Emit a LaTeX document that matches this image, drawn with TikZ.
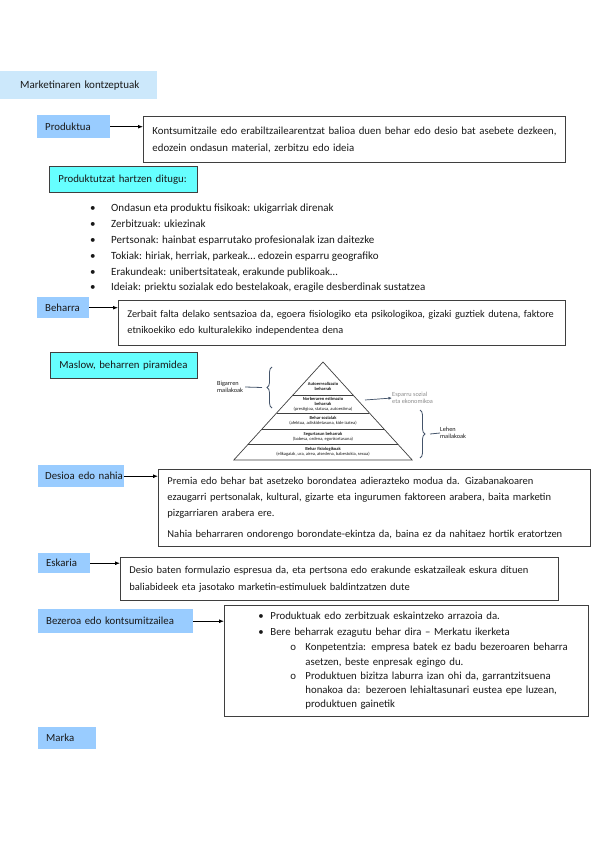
\documentclass[tikz,border=0pt]{standalone}
\usepackage{fontspec}
\setmainfont{Carlito}
\usetikzlibrary{arrows.meta,decorations.pathreplacing,shadows}
\definecolor{hdrblue}{HTML}{CCE8FB}
\definecolor{keyblue}{HTML}{99CCFF}
\definecolor{cyanbox}{HTML}{66FFFF}
\definecolor{edge}{HTML}{3F3F3F}
\definecolor{brace}{HTML}{44546A}
\begin{document}
\begin{tikzpicture}[x=1pt,y=-1pt,
  every node/.style={text=black!90},
  hdr/.style={fill=hdrblue, anchor=north west, inner xsep=20pt, inner ysep=0pt, align=left, font=\fontsize{11}{13}\selectfont},
  keybox/.style={fill=keyblue, anchor=north west, inner xsep=8pt, inner ysep=0pt, align=left, font=\fontsize{10.8}{13}\selectfont},
  cyanlbl/.style={fill=cyanbox, draw=edge, line width=0.9pt, anchor=north west, inner xsep=9pt, inner ysep=0pt, align=left, font=\fontsize{10.8}{13}\selectfont, drop shadow={shadow xshift=1pt, shadow yshift=-1pt, fill=black!40}},
  defbox/.style={draw=edge, fill=white, line width=0.9pt, anchor=north west, inner xsep=9pt, inner ysep=0pt, align=left, font=\fontsize{10.5}{16.5}\selectfont},
  link/.style={-{Latex[length=5pt,width=4pt]}, line width=0.9pt, black},
  pyr/.style={draw=edge, line width=0.7pt},
  pyrtxt/.style={align=center, inner sep=0pt, font=\fontsize{4.5}{4.9}\selectfont},
  bracestyle/.style={draw=brace, line width=0.8pt, decorate, decoration={brace, amplitude=5pt}},
  side/.style={align=left, inner sep=0pt, font=\fontsize{6.3}{7.3}\selectfont}
]
\useasboundingbox (0,0) rectangle (599,848);

% header
\node[hdr, text width=117pt, minimum height=28pt] (mk) at (0,71) {\mbox{Marketinaren kontzeptuak}};

% Produktua
\node[keybox, text width=57pt, minimum height=23pt] (prod) at (37,115) {Produktua};
\node[defbox, text width=404pt, minimum height=46pt, font=\fontsize{10.8}{17}\selectfont] (d1) at (143,116)
 {\mbox{Kontsumitzaile edo erabiltzailearentzat balioa duen behar edo desio bat asebete dezkeen,}\\
  \mbox{edozein ondasun material, zerbitzu edo ideia}};
\draw[link] (prod.east) -- (prod.east -| d1.west);

\node[cyanlbl, text width=130pt, minimum height=26pt] (ph) at (49,166) {\mbox{Produktutzat hartzen ditugu:}};

\node[anchor=north west, inner sep=0pt, align=left, font=\fontsize{11}{15.8}\selectfont] (list) at (90,204)
 {\makebox[21pt][l]{•}Ondasun eta produktu fisikoak: ukigarriak direnak\\
  \makebox[21pt][l]{•}Zerbitzuak: ukiezinak\\
  \makebox[21pt][l]{•}Pertsonak: hainbat esparrutako profesionalak izan daitezke\\
  \makebox[21pt][l]{•}Tokiak: hiriak, herriak, parkeak… edozein esparru geografiko\\
  \makebox[21pt][l]{•}Erakundeak: unibertsitateak, erakunde publikoak…\\
  \makebox[21pt][l]{•}Ideiak: priektu sozialak edo bestelakoak, eragile desberdinak sustatzea};

% Beharra
\node[keybox, text width=36pt, minimum height=21pt] (beh) at (37,297) {Beharra};
\node[defbox, text width=429pt, minimum height=45pt, font=\fontsize{10.3}{16}\selectfont] (d2) at (118,300)
 {\mbox{Zerbait falta delako sentsazioa da, egoera fisiologiko eta psikologikoa, gizaki guztiek dutena, faktore}\\
  \mbox{etnikoekiko edo kulturalekiko independentea dena}};
\draw[link] (beh.east) -- (beh.east -| d2.west);

% Maslow
\node[cyanlbl, text width=129pt, minimum height=26pt] (mas) at (50,352) {\mbox{Maslow, beharren piramidea}};

% pyramid
\coordinate (apex) at (323,362);
\coordinate (bl) at (233.8,460);
\coordinate (br) at (412.2,460);
\draw[pyr] (apex) -- (br) -- (bl) -- cycle;
\draw[pyr] (293,395) -- (353,395);
\draw[pyr] (276.6,413) -- (369.4,413);
\draw[pyr] (262,429) -- (384,429);
\draw[pyr] (248.4,444) -- (397.6,444);
\node[pyrtxt] (p1) at (323,386) {\textbf{Autoerrealizazio}\\\textbf{beharrak}};
\node[pyrtxt] (p2) at (323,404) {\textbf{Norberaren estimazio}\\\textbf{beharrak}\\(prestigioa, statusa, autoestima)};
\node[pyrtxt] (p3) at (323,421) {\textbf{Behar sozialak}\\(afektua, adiskidetasuna, kide izatea)};
\node[pyrtxt] (p4) at (323,436.5) {\textbf{Segurtasun beharrak}\\(babesa, ordena, egonkortasuna)};
\node[pyrtxt] (p5) at (323,452) {\textbf{Behar fisiologikoak}\\(elikagaiak, ura, airea, atsedena, babestokia, sexua)};

\draw[bracestyle] (272,408) -- (272,367);
\node[side, anchor=west] (big) at (217,387) {Bigarren\\mailakoak};
\coordinate (lb) at (262,387.5);
\draw[brace, line width=0.8pt] (big.east) ++(2,0) -- (lb);

\coordinate (ea) at (365,400);
\node[side, anchor=west, text=black!45] (esp) at (392,398) {Esparru sozial\\eta ekonomikoa};
\draw[-{Latex[length=3.5pt,width=3pt]}, draw=brace, fill=brace, line width=0.7pt] (ea) -- (esp.west);

\draw[bracestyle] (420,410) -- (420,458);
\node[side, anchor=west] (leh) at (440,433) {Lehen\\mailakoak};
\coordinate (rb) at (430,434);
\draw[brace, line width=0.8pt] (rb) -- (leh.west);

% Desioa
\node[keybox, text width=72pt, inner xsep=7pt, minimum height=22pt] (des) at (38,465) {\mbox{Desioa edo nahia}};
\node[defbox, text width=414pt, minimum height=77pt, font=\fontsize{10.5}{16}\selectfont] (d3) at (158,469)
 {\mbox{Premia edo behar bat asetzeko borondatea adierazteko modua da. Gizabanakoaren}\\
  \mbox{ezaugarri pertsonalak, kultural, gizarte eta ingurumen faktoreen arabera, baita marketin}\\
  \mbox{pizgarriaren arabera ere.}\\[5pt]
  \mbox{Nahia beharraren ondorengo borondate-ekintza da, baina ez da nahitaez hortik eratortzen}};
\draw[link] (des.east) -- (des.east -| d3.west);

% Eskaria
\node[keybox, text width=36pt, minimum height=20pt] (esk) at (38,553) {Eskaria};
\node[defbox, text width=420pt, minimum height=43pt, font=\fontsize{10.5}{17}\selectfont] (d4) at (120,557)
 {\mbox{Desio baten formulazio espresua da, eta pertsona edo erakunde eskatzaileak eskura dituen}\\
  \mbox{baliabideek eta jasotako marketin-estimuluek baldintzatzen dute}};
\draw[link] (esk.east) -- (esk.east -| d4.west);

% Bezeroa
\node[keybox, text width=139pt, minimum height=24pt] (bez) at (38,609) {\mbox{Bezeroa edo kontsumitzailea}};
\node[defbox, text width=346pt, minimum height=111pt, font=\fontsize{10.8}{14.2}\selectfont] (d5) at (224,605)
 {\mbox{\hspace*{25pt}\makebox[12pt][l]{•}Produktuak edo zerbitzuak eskaintzeko arrazoia da.}\\[1.5pt]
  \mbox{\hspace*{25pt}\makebox[12pt][l]{•}Bere beharrak ezagutu behar dira – Merkatu ikerketa}\\[1pt]
  \mbox{\hspace*{57pt}\makebox[15pt][l]{o}Konpetentzia: empresa batek ez badu bezeroaren beharra}\\
  \mbox{\hspace*{72pt}asetzen, beste enpresak egingo du.}\\
  \mbox{\hspace*{57pt}\makebox[15pt][l]{o}Produktuen bizitza laburra izan ohi da, garrantzitsuena}\\
  \mbox{\hspace*{72pt}honakoa da: bezeroen lehialtasunari eustea epe luzean,}\\
  \mbox{\hspace*{72pt}produktuen gainetik}};
\draw[link] (bez.east) -- (bez.east -| d5.west);

% Marka
\node[keybox, text width=42pt, minimum height=22pt] (mar) at (38,727) {Marka};
\end{tikzpicture}
\end{document}
